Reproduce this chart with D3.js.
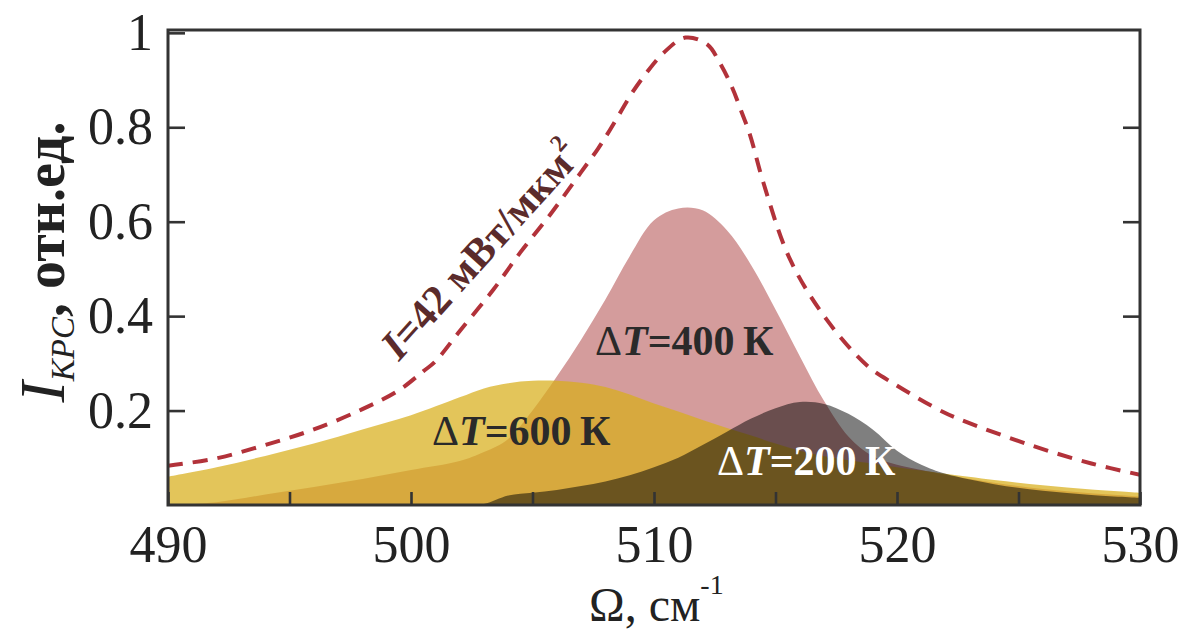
<!DOCTYPE html>
<html>
<head>
<meta charset="utf-8">
<script src="https://cdn.jsdelivr.net/npm/d3@7"></script>
<style>
  html, body { margin: 0; padding: 0; background: #fff; }
  svg { display: block; }
  text { font-family: "Liberation Serif", "DejaVu Serif", serif; }
</style>
</head>
<body>
<svg id="chart" width="1184" height="632"></svg>
<script>
// Raman shift grid (cm^-1) shared by the three filled spectra
const omega = [490, 492, 494, 496, 498, 500, 502, 503, 504, 505, 506, 507, 508, 509, 510,
               511, 512, 513, 514, 515, 516, 517, 518, 519, 520, 521, 522, 524, 526, 528, 530];

// Spectrum for ΔT = 600 K
const i600 = [0.060, 0.080, 0.104, 0.130, 0.160, 0.190, 0.228, 0.247, 0.258, 0.263, 0.263, 0.259, 0.250, 0.234, 0.215,
              0.198, 0.180, 0.163, 0.147, 0.130, 0.115, 0.103, 0.095, 0.088, 0.080, 0.073, 0.066, 0.053, 0.042, 0.033, 0.026];

// Spectrum for ΔT = 400 K
const i400 = [0.000, 0.006, 0.022, 0.038, 0.055, 0.074, 0.093, 0.112, 0.140, 0.200, 0.272, 0.350, 0.435, 0.527, 0.603,
              0.628, 0.624, 0.582, 0.508, 0.414, 0.315, 0.220, 0.145, 0.103, 0.085, 0.074, 0.064, 0.047, 0.034, 0.025, 0.018];

// Spectrum for ΔT = 200 K
const i200 = [0.000, 0.000, 0.000, 0.000, 0.000, 0.000, 0.000, 0.002, 0.020, 0.026, 0.032, 0.040, 0.050, 0.063, 0.080,
              0.100, 0.127, 0.155, 0.183, 0.205, 0.218, 0.214, 0.193, 0.160, 0.115, 0.085, 0.066, 0.044, 0.030, 0.021, 0.015];

// Reference spectrum at I = 42 mW/um^2 (dashed)
const dashOmega = [490, 492, 494, 496, 498, 499.5, 500.5, 501, 502, 503.4, 504.5, 505.8, 507, 507.7, 508.1, 508.6, 509.1,
                   509.7, 510.4, 511.3, 512.2, 512.7, 513.2, 513.6, 513.95, 514.5, 515.6, 517.1, 518.8, 519.9, 521.9,
                   522.9, 525.6, 528, 530];
const dashI = [0.083, 0.099, 0.127, 0.160, 0.203, 0.243, 0.283, 0.304, 0.368, 0.457, 0.535, 0.620, 0.705, 0.755, 0.787,
               0.830, 0.873, 0.916, 0.958, 0.990, 0.975, 0.937, 0.886, 0.833, 0.784, 0.683, 0.520, 0.393, 0.294, 0.256,
               0.197, 0.175, 0.125, 0.088, 0.064];

const xTicks = [490, 495, 500, 505, 510, 515, 520, 525, 530];
const yTicks = [0.2, 0.4, 0.6, 0.8, 1];

const svg = d3.select("#chart");
const plotLeft = 168, plotRight = 1140, plotTop = 30, plotBottom = 505;

const x = d3.scaleLinear().domain([490, 530]).range([plotLeft, plotRight]);
const y = d3.scaleLinear().domain([0, 1.006]).range([plotBottom, plotTop]);

svg.append("defs").append("clipPath").attr("id", "plotClip")
  .append("rect").attr("x", plotLeft).attr("y", plotTop)
  .attr("width", plotRight - plotLeft).attr("height", plotBottom - plotTop);

const plot = svg.append("g").attr("clip-path", "url(#plotClip)");

const smooth = d3.curveCatmullRom.alpha(0.5);

const area = vals => d3.area()
  .x((d, i) => x(omega[i]))
  .y0(y(0))
  .y1((d, i) => y(vals[i]))
  .curve(smooth)(vals);

// ΔT = 400 K (bottom layer)
plot.append("path").attr("d", area(i400)).attr("fill", "#d49c9c");
// ΔT = 600 K (translucent yellow)
plot.append("path").attr("d", area(i600)).attr("fill", "#d8ae1a").attr("fill-opacity", 0.72);
// ΔT = 200 K (translucent dark)
plot.append("path").attr("d", area(i200)).attr("fill", "#000").attr("fill-opacity", 0.5);

// dashed reference line
const line = d3.line()
  .x((d, i) => x(dashOmega[i]))
  .y((d, i) => y(dashI[i]))
  .curve(smooth);
plot.append("path").attr("d", line(dashI))
  .attr("fill", "none").attr("stroke", "#b2323a").attr("stroke-width", 4)
  .attr("stroke-dasharray", "15,10");

// axes
const tickStyle = g => {
  g.select(".domain").remove();
  g.selectAll(".tick line").attr("stroke", "#333").attr("stroke-width", 2.6);
  g.selectAll(".tick text").attr("fill", "#222").style("font-size", "52px")
    .style("font-family", "'Liberation Serif', serif");
};

svg.append("g").attr("transform", `translate(0,${plotBottom})`)
  .call(d3.axisBottom(x).tickValues(xTicks).tickSize(-13).tickPadding(20)
    .tickFormat(d => d % 10 === 0 ? d : ""))
  .call(tickStyle);

svg.append("g").attr("transform", `translate(${plotLeft},0)`)
  .call(d3.axisLeft(y).tickValues(yTicks).tickSize(-17).tickPadding(15)
    .tickFormat(d => d === 1 ? "1" : d3.format(".1f")(d)))
  .call(tickStyle);

svg.append("g").attr("transform", `translate(${plotRight},0)`)
  .call(d3.axisRight(y).tickValues(yTicks.slice(0, 4)).tickSize(-17).tickFormat(""))
  .call(tickStyle);

// frame
svg.append("rect").attr("x", plotLeft).attr("y", plotTop)
  .attr("width", plotRight - plotLeft).attr("height", plotBottom - plotTop)
  .attr("fill", "none").attr("stroke", "#333").attr("stroke-width", 3);

// x axis title
const xt = svg.append("text").attr("x", 589).attr("y", 621)
  .attr("fill", "#222").style("font-size", "48px");
xt.append("tspan").text("Ω, см");
xt.append("tspan").attr("dy", -27).style("font-size", "28px").text("-1");

// y axis title
const yt = svg.append("text").attr("transform", "translate(64,262) rotate(-90)")
  .attr("text-anchor", "middle").attr("fill", "#222");
yt.append("tspan").style("font-size", "64px").style("font-style", "italic").text("I");
yt.append("tspan").attr("dy", 10).style("font-size", "33px").style("font-style", "italic").text("КРС");
yt.append("tspan").attr("dy", -10).style("font-size", "56px").style("font-weight", "bold").text(", отн.ед.");

// series labels
function dtLabel(px, py, value, color) {
  const t = svg.append("text").attr("x", px).attr("y", py).attr("fill", color).style("font-size", "42px");
  t.append("tspan").text("Δ");
  t.append("tspan").style("font-style", "italic").style("font-weight", "bold").text("T");
  t.append("tspan").style("font-weight", "bold").text("=" + value + "\u2009К");
}
dtLabel(595, 355, 400, "#2a2a2a");
dtLabel(432, 445, 600, "#2a2a2a");
dtLabel(717, 475, 200, "#ffffff");

// intensity label along the dashed curve
const il = svg.append("text").attr("transform", "translate(399,362) rotate(-48)")
  .attr("fill", "#5b2b2b").style("font-size", "42px").style("font-weight", "bold");
il.append("tspan").style("font-style", "italic").text("I");
il.append("tspan").text("=42 мВт/мкм");
il.append("tspan").attr("dy", -20).style("font-size", "24px").text("2");
</script>
</body>
</html>
